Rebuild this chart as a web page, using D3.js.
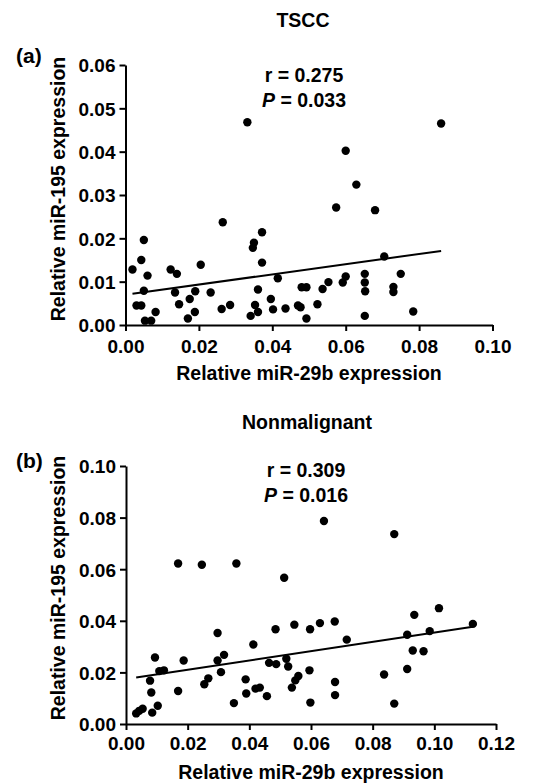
<!DOCTYPE html>
<html><head><meta charset="utf-8">
<script src="https://cdn.jsdelivr.net/npm/d3@7"></script>
<style>
body{margin:0;background:#fff;}
svg{display:block;}
text{font-family:"Liberation Sans",Arial,sans-serif;font-weight:bold;fill:#000;}
</style></head><body>
<svg id="c" width="554" height="783"></svg>
<script>
// Panel (a) TSCC
const aX = [0.0019,0.0030,0.0043,0.0043,0.0050,0.0060,0.0050,0.0053,0.0070,0.0082,0.0123,0.0140,0.0135,0.0146,0.0175,0.0170,0.0189,0.0190,0.0205,0.0232,0.0265,0.0262,0.0285,0.0332,0.0347,0.0350,0.0372,0.0372,0.0361,0.0353,0.0361,0.0341,0.0396,0.0402,0.0415,0.0436,0.0470,0.0477,0.0480,0.0493,0.0493,0.0523,0.0537,0.0553,0.0574,0.0592,0.0600,0.0600,0.0629,0.0652,0.0652,0.0653,0.0652,0.0680,0.0705,0.0730,0.0730,0.0750,0.0784,0.0860];
const aY = [0.0128,0.0045,0.0045,0.0150,0.0196,0.0114,0.0079,0.0010,0.0010,0.0030,0.0128,0.0118,0.0075,0.0048,0.0060,0.0015,0.0030,0.0078,0.0139,0.0075,0.0237,0.0037,0.0046,0.0468,0.0178,0.0190,0.0214,0.0144,0.0082,0.0046,0.0030,0.0021,0.0060,0.0036,0.0108,0.0038,0.0045,0.0041,0.0087,0.0087,0.0015,0.0048,0.0083,0.0099,0.0271,0.0098,0.0112,0.0402,0.0324,0.0118,0.0098,0.0078,0.0021,0.0265,0.0158,0.0088,0.0076,0.0118,0.0031,0.0465];
const aFitX = [0.0019,0.0860];
const aFitY = [0.0072,0.0171];
const aXTicks = [0.00,0.02,0.04,0.06,0.08,0.10];
const aYTicks = [0.00,0.01,0.02,0.03,0.04,0.05,0.06];

// Panel (b) Nonmalignant
const bX = [0.0033,0.0043,0.0054,0.0078,0.0082,0.0085,0.0094,0.0103,0.0108,0.0123,0.0169,0.0169,0.0187,0.0246,0.0254,0.0267,0.0297,0.0297,0.0308,0.0318,0.0358,0.0350,0.0388,0.0390,0.0413,0.0420,0.0434,0.0457,0.0464,0.0485,0.0487,0.0513,0.0520,0.0526,0.0538,0.0546,0.0549,0.0559,0.0597,0.0595,0.0598,0.0629,0.0642,0.0677,0.0678,0.0678,0.0716,0.0837,0.0870,0.0870,0.0912,0.0912,0.0930,0.0935,0.0965,0.0985,0.1015,0.1125];
const bY = [0.0041,0.0051,0.0059,0.0168,0.0122,0.0044,0.0258,0.0071,0.0205,0.0208,0.0622,0.0128,0.0246,0.0617,0.0154,0.0177,0.0353,0.0246,0.0201,0.0268,0.0622,0.0081,0.0173,0.0118,0.0308,0.0137,0.0141,0.0108,0.0237,0.0367,0.0232,0.0567,0.0253,0.0223,0.0141,0.0385,0.0169,0.0186,0.0367,0.0208,0.0083,0.0391,0.0787,0.0397,0.0163,0.0112,0.0327,0.0192,0.0736,0.0079,0.0346,0.0213,0.0285,0.0423,0.0282,0.0360,0.0449,0.0388];
const bFitX = [0.0033,0.1125];
const bFitY = [0.0180,0.0377];
const bXTicks = [0.00,0.02,0.04,0.06,0.08,0.10,0.12];
const bYTicks = [0.00,0.02,0.04,0.06,0.08,0.10];

const panels = [
  {X:aX,Y:aY,fx:aFitX,fy:aFitY,xt:aXTicks,yt:aYTicks,xd:[0,0.10],yd:[0,0.06],
   x0:125.5,x1:492.5,y0:325,y1:65,title:"TSCC",tag:"(a)",r:"r = 0.275",p:" = 0.033",
   titleX:303,titleY:27,tagY:63,rY:82,pY:107,xtY:380,ylabY:189,pad:9},
  {X:bX,Y:bY,fx:bFitX,fy:bFitY,xt:bXTicks,yt:bYTicks,xd:[0,0.12],yd:[0,0.10],
   x0:126,x1:496,y0:724,y1:466,title:"Nonmalignant",tag:"(b)",r:"r = 0.309",p:" = 0.016",
   titleX:307,titleY:429,tagY:468,rY:477,pY:502,xtY:779,ylabY:588,pad:7}
];

const svg = d3.select("#c");
panels.forEach(P => {
  const x = d3.scaleLinear().domain(P.xd).range([P.x0,P.x1]);
  const y = d3.scaleLinear().domain(P.yd).range([P.y0,P.y1]);
  const g = svg.append("g");
  const xa = g.append("g").attr("transform",`translate(0,${P.y0})`)
    .call(d3.axisBottom(x).tickValues(P.xt).tickFormat(d3.format(".2f")).tickSize(6).tickSizeOuter(0).tickPadding(P.pad));
  const ya = g.append("g").attr("transform",`translate(${P.x0},0)`)
    .call(d3.axisLeft(y).tickValues(P.yt).tickFormat(d3.format(".2f")).tickSize(6).tickSizeOuter(0).tickPadding(4));
  [xa,ya].forEach(a=>{
    a.selectAll("path,line").attr("stroke","#000").attr("stroke-width",2);
    a.selectAll("text").style("font-size","19px");
    a.attr("font-family",null).attr("font-size",null);
  });
  ya.selectAll("text").attr("dy","0.36em");

  g.append("line").attr("x1",x(P.fx[0])).attr("y1",y(P.fy[0]))
    .attr("x2",x(P.fx[1])).attr("y2",y(P.fy[1]))
    .attr("stroke","#000").attr("stroke-width",2);

  g.selectAll("circle.pt").data(P.X.map((v,i)=>[v,P.Y[i]])).join("circle")
    .attr("class","pt").attr("cx",d=>x(d[0])).attr("cy",d=>y(d[1])).attr("r",4.2).attr("fill","#000");

  const cx = (P.x0+P.x1)/2 - 5;
  g.append("text").attr("x",P.titleX).attr("y",P.titleY).attr("text-anchor","middle").style("font-size","19.5px").text(P.title);
  g.append("text").attr("x",16).attr("y",P.tagY).style("font-size","21px").text(P.tag);
  g.append("text").attr("x",cx).attr("y",P.rY).attr("text-anchor","middle").style("font-size","19.5px").text(P.r);
  const pt = g.append("text").attr("x",cx).attr("y",P.pY).attr("text-anchor","middle").style("font-size","19.5px");
  pt.append("tspan").style("font-style","italic").text("P");
  pt.append("tspan").text(P.p);
  g.append("text").attr("x",(P.x0+P.x1)/2).attr("y",P.xtY).attr("text-anchor","middle").style("font-size","19.5px").text("Relative miR-29b expression");
  g.append("text").attr("transform",`translate(65,${P.ylabY}) rotate(-90)`).attr("text-anchor","middle").style("font-size","19.5px").text("Relative miR-195 expression");
});
</script>
</body></html>
